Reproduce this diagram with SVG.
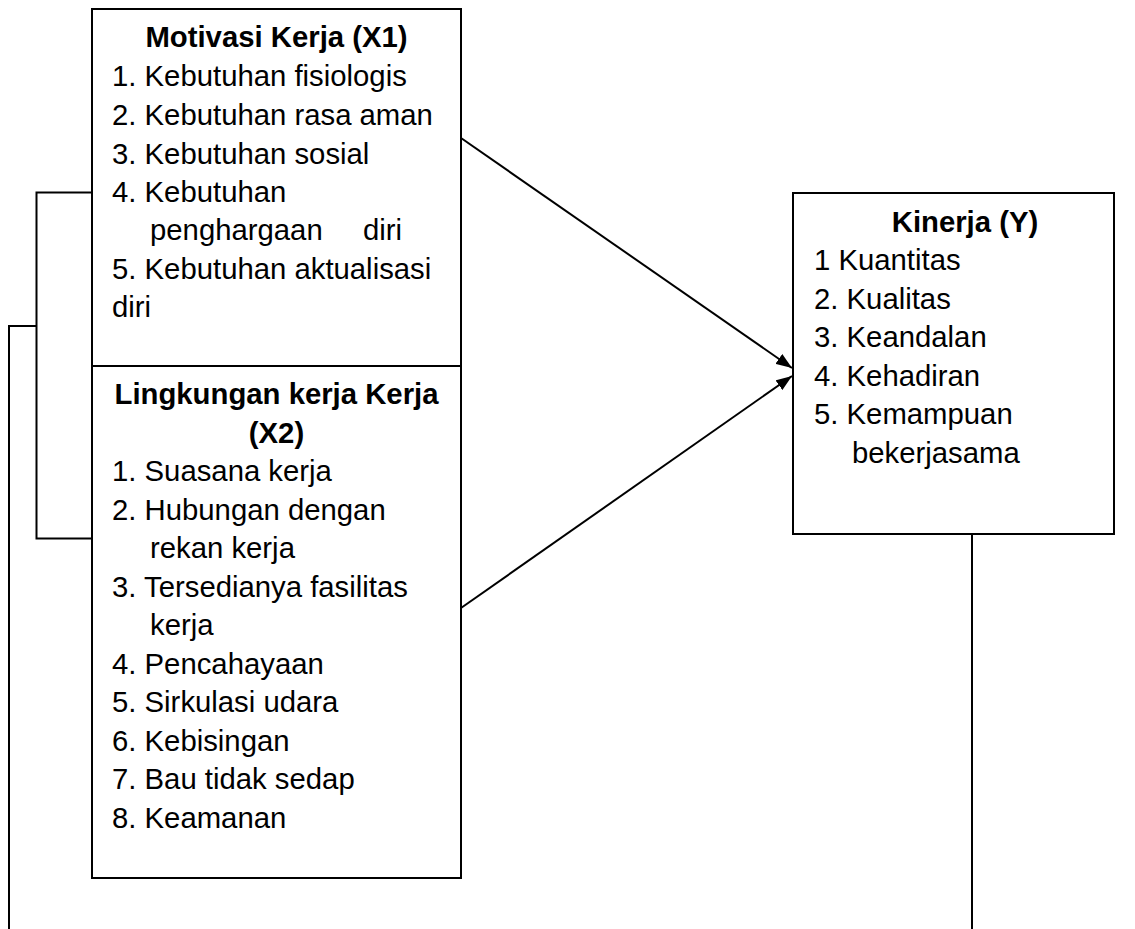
<svg xmlns="http://www.w3.org/2000/svg" width="1135" height="929" viewBox="0 0 1135 929">
<style>
.box{fill:#fff;stroke:#000;stroke-width:2}
.t{font-family:"Liberation Sans",Arial,sans-serif;font-size:29.3px;fill:#000}
.b{font-weight:bold;text-anchor:middle}
.ln{stroke:#000;stroke-width:2;fill:none}
</style>
<defs>
<marker id="arr" viewBox="0 0 16 12" refX="16" refY="6" markerWidth="16" markerHeight="12" markerUnits="userSpaceOnUse" orient="auto">
<path d="M0,0 L16,6 L0,12 z" fill="#000"/>
</marker>
</defs>
<rect width="1135" height="929" fill="#fff"/>
<g id="connectors">
<polyline class="ln" points="92,192.5 36.5,192.5 36.5,538.5 92,538.5"/>
<polyline class="ln" points="36.5,326 9,326 9,929"/>
<line class="ln" x1="972" y1="534" x2="972" y2="929"/>
<line class="ln" x1="461" y1="138" x2="792" y2="368" marker-end="url(#arr)"/>
<line class="ln" x1="461" y1="608" x2="792" y2="376" marker-end="url(#arr)"/>
</g>
<g id="x1">
<rect class="box" x="92" y="9" width="369" height="357"/>
<text class="t b" x="276.5" y="47">Motivasi Kerja (X1)</text>
<text class="t" x="112" y="86">1. Kebutuhan fisiologis</text>
<text class="t" x="112" y="125">2. Kebutuhan rasa aman</text>
<text class="t" x="112" y="164">3. Kebutuhan sosial</text>
<text class="t" x="112" y="202">4. Kebutuhan</text>
<text class="t" x="150" y="240">penghargaan</text>
<text class="t" x="363" y="240">diri</text>
<text class="t" x="112" y="279">5. Kebutuhan aktualisasi</text>
<text class="t" x="112" y="317">diri</text>
</g>
<g id="x2">
<rect class="box" x="92" y="366" width="369" height="512"/>
<text class="t b" x="276.5" y="404">Lingkungan kerja Kerja</text>
<text class="t b" x="276.5" y="442.5">(X2)</text>
<text class="t" x="112" y="481">1. Suasana kerja</text>
<text class="t" x="112" y="519.5">2. Hubungan dengan</text>
<text class="t" x="150" y="558">rekan kerja</text>
<text class="t" x="112" y="596.5">3. Tersedianya fasilitas</text>
<text class="t" x="150" y="635">kerja</text>
<text class="t" x="112" y="673.5">4. Pencahayaan</text>
<text class="t" x="112" y="712">5. Sirkulasi udara</text>
<text class="t" x="112" y="750.5">6. Kebisingan</text>
<text class="t" x="112" y="789">7. Bau tidak sedap</text>
<text class="t" x="112" y="827.5">8. Keamanan</text>
</g>
<g id="y">
<rect class="box" x="793" y="193" width="321" height="341"/>
<text class="t b" x="965" y="232">Kinerja (Y)</text>
<text class="t" x="814" y="270">1 Kuantitas</text>
<text class="t" x="814" y="308.5">2. Kualitas</text>
<text class="t" x="814" y="347">3. Keandalan</text>
<text class="t" x="814" y="385.5">4. Kehadiran</text>
<text class="t" x="814" y="424">5. Kemampuan</text>
<text class="t" x="852" y="462.5">bekerjasama</text>
</g>
</svg>
